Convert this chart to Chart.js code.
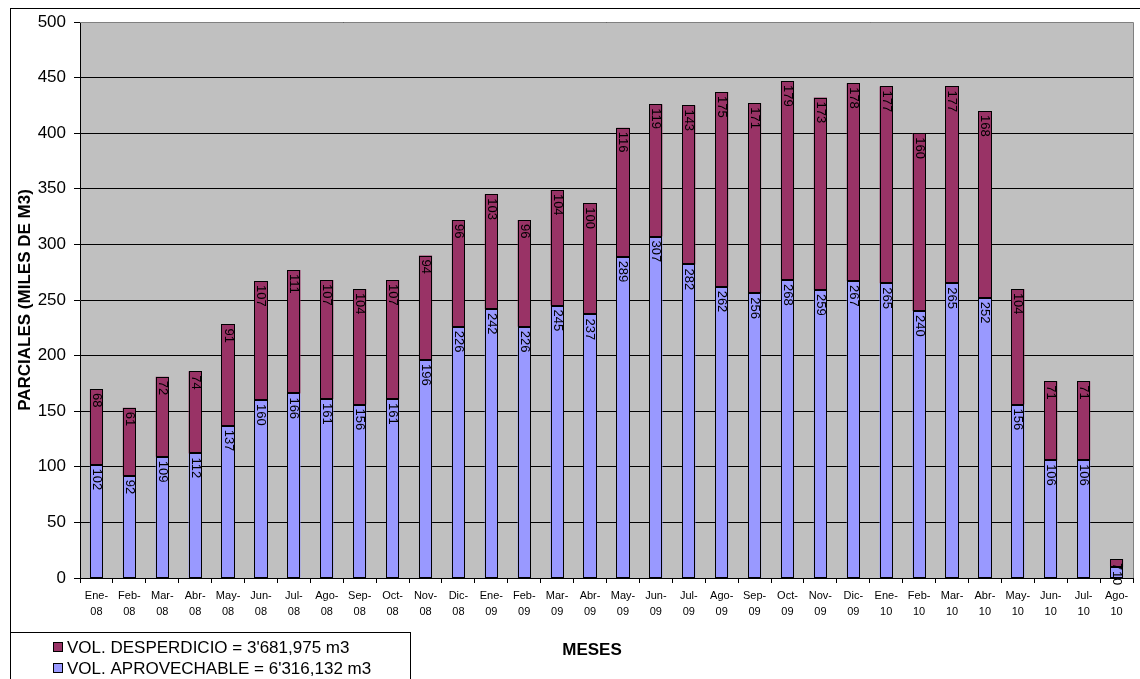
<!DOCTYPE html>
<html>
<head>
<meta charset="utf-8">
<script src="https://cdn.jsdelivr.net/npm/chart.js@4.4.1/dist/chart.umd.min.js"></script>
<style>
  body { margin: 0; background: #fff; }
  #wrap { width: 1140px; height: 679px; }
</style>
</head>
<body>
<div id="wrap"><canvas id="chart" width="1140" height="679"></canvas></div>
<script>
// data
const meses = [
  ["Ene-", "08"], ["Feb-", "08"], ["Mar-", "08"], ["Abr-", "08"], ["May-", "08"], ["Jun-", "08"],
  ["Jul-", "08"], ["Ago-", "08"], ["Sep-", "08"], ["Oct-", "08"], ["Nov-", "08"], ["Dic-", "08"],
  ["Ene-", "09"], ["Feb-", "09"], ["Mar-", "09"], ["Abr-", "09"], ["May-", "09"], ["Jun-", "09"],
  ["Jul-", "09"], ["Ago-", "09"], ["Sep-", "09"], ["Oct-", "09"], ["Nov-", "09"], ["Dic-", "09"],
  ["Ene-", "10"], ["Feb-", "10"], ["Mar-", "10"], ["Abr-", "10"], ["May-", "10"], ["Jun-", "10"],
  ["Jul-", "10"], ["Ago-", "10"]
];
const aprovechable = [102, 92, 109, 112, 137, 160, 166, 161, 156, 161, 196, 226,
  242, 226, 245, 237, 289, 307, 282, 262, 256, 268, 259, 267,
  265, 240, 265, 252, 156, 106, 106, 10];
const desperdicio = [68, 61, 72, 74, 91, 107, 111, 107, 104, 107, 94, 96,
  103, 96, 104, 100, 116, 119, 143, 175, 171, 179, 173, 178,
  177, 160, 177, 168, 104, 71, 71, 7];
const yTicks = [0, 50, 100, 150, 200, 250, 300, 350, 400, 450, 500];

const labelDesperdicio = "VOL. DESPERDICIO = 3'681,975 m3";
const labelAprovechable = "VOL. APROVECHABLE = 6'316,132 m3";
const colDesperdicio = "#993366";
const colAprovechable = "#9999FF";

const FONT = "'Liberation Sans', Arial, sans-serif";

// gray plot area + frames
const background = {
  id: "background",
  beforeDraw(chart) {
    const { ctx, chartArea: a } = chart;
    ctx.save();
    ctx.fillStyle = "#fff";
    ctx.fillRect(0, 0, chart.width, chart.height);
    ctx.fillStyle = "#C0C0C0";
    ctx.fillRect(a.left, a.top, a.right - a.left, a.bottom - a.top);
    ctx.restore();
  },
  afterDraw(chart) {
    const { ctx, chartArea: a } = chart;
    ctx.save();
    // plot border top/right
    ctx.strokeStyle = "#808080";
    ctx.lineWidth = 1;
    ctx.beginPath();
    ctx.moveTo(a.left, a.top + 0.5);
    ctx.lineTo(a.right + 0.5, a.top + 0.5);
    ctx.lineTo(a.right + 0.5, a.bottom);
    ctx.stroke();
    // outer frame
    ctx.strokeStyle = "#000";
    ctx.strokeRect(10.5, 8.5, 1140, 700);
    // legend box
    ctx.fillStyle = "#fff";
    ctx.fillRect(10.5, 632.5, 400, 60);
    ctx.strokeRect(10.5, 632.5, 400, 60);
    const items = [[labelDesperdicio, colDesperdicio, 647], [labelAprovechable, colAprovechable, 668]];
    ctx.font = "17px " + FONT;
    ctx.textBaseline = "middle";
    ctx.textAlign = "left";
    items.forEach(it => {
      ctx.fillStyle = it[1];
      ctx.fillRect(53.5, it[2] - 4.5, 9, 9);
      ctx.strokeRect(53.5, it[2] - 4.5, 9, 9);
      ctx.fillStyle = "#000";
      ctx.fillText(it[0], 67, it[2] + 1);
    });
    // axis titles
    ctx.font = "bold 17px " + FONT;
    ctx.textAlign = "center";
    ctx.fillText("MESES", 592, 650);
    ctx.translate(25, (a.top + a.bottom) / 2);
    ctx.rotate(-Math.PI / 2);
    ctx.fillText("PARCIALES (MILES DE M3)", 0, 0);
    ctx.restore();
  }
};

// crisp outlines + rotated values at top of each segment
const valueLabels = {
  id: "valueLabels",
  afterDatasetsDraw(chart) {
    const ctx = chart.ctx;
    ctx.save();
    ctx.strokeStyle = "#000";
    ctx.lineWidth = 1;
    chart.data.datasets.forEach((ds, i) => {
      chart.getDatasetMeta(i).data.forEach(bar => {
        const x0 = Math.round(bar.x - bar.width / 2) + 0.5;
        const x1 = Math.round(bar.x + bar.width / 2) - 0.5;
        const y0 = Math.round(bar.y) + 0.5;
        const y1 = Math.round(bar.base) - 0.5;
        ctx.strokeRect(x0, y0, x1 - x0, y1 - y0);
      });
    });
    ctx.font = "13px " + FONT;
    ctx.fillStyle = "#000";
    ctx.textAlign = "left";
    ctx.textBaseline = "middle";
    chart.data.datasets.forEach((ds, i) => {
      const meta = chart.getDatasetMeta(i);
      meta.data.forEach((bar, j) => {
        ctx.save();
        ctx.translate(bar.x, bar.y + 4);
        ctx.rotate(Math.PI / 2);
        ctx.fillText(String(ds.data[j]), 0, 0);
        ctx.restore();
      });
    });
    ctx.restore();
  }
};

const context = document.getElementById("chart").getContext("2d");
let chart = new Chart(context, {
  type: "bar",
  data: {
    labels: meses,
    datasets: [
      {
        label: labelAprovechable,
        data: aprovechable,
        backgroundColor: colAprovechable,
        borderWidth: 0,
        barPercentage: 0.4,
        categoryPercentage: 1
      },
      {
        label: labelDesperdicio,
        data: desperdicio,
        backgroundColor: colDesperdicio,
        borderWidth: 0,
        barPercentage: 0.4,
        categoryPercentage: 1
      }
    ]
  },
  options: {
    responsive: false,
    animation: false,
    devicePixelRatio: 1,
    layout: { padding: { top: 22, right: 7, left: 0, bottom: 0 } },
    plugins: {
      legend: { display: false },
      tooltip: { enabled: false }
    },
    scales: {
      x: {
        stacked: true,
        offset: true,
        grid: {
          offset: true,
          drawOnChartArea: false,
          drawTicks: true,
          tickLength: 5,
          color: "#000"
        },
        border: { color: "#000", width: 1 },
        ticks: {
          autoSkip: false,
          maxRotation: 0,
          minRotation: 0,
          padding: 5,
          color: "#000",
          font: { family: FONT, size: 11, lineHeight: 1.45 }
        },
        afterFit(scale) { scale.height = 101; }
      },
      y: {
        stacked: true,
        min: 0,
        max: 500,
        afterBuildTicks(scale) { scale.ticks = yTicks.map(v => ({ value: v })); },
        grid: {
          color: "#000",
          drawTicks: true,
          tickLength: 6
        },
        border: { color: "#000", width: 1 },
        ticks: {
          padding: 8,
          color: "#000",
          font: { family: FONT, size: 17 }
        },
        afterFit(scale) { scale.width = 80; }
      }
    }
  },
  plugins: [background, valueLabels]
});
</script>
</body>
</html>
